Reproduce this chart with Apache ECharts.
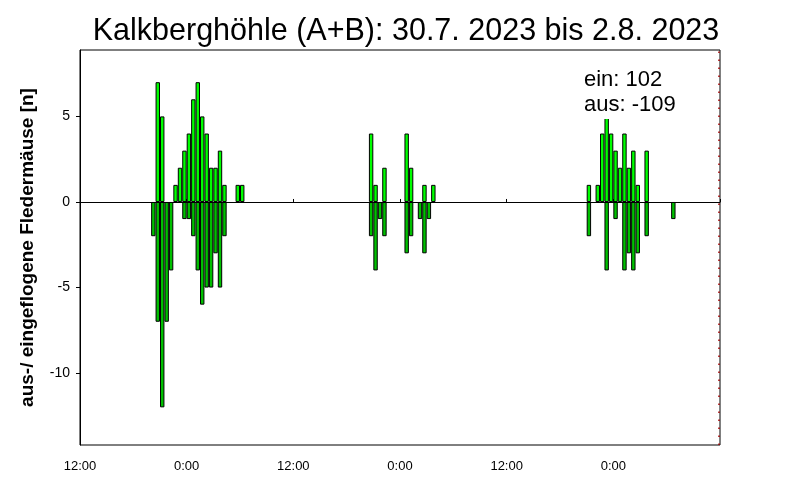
<!DOCTYPE html>
<html>
<head>
<meta charset="utf-8">
<script src="https://cdn.jsdelivr.net/npm/echarts@6/dist/echarts.min.js"></script>
<style>
  body { margin: 0; background: #fff; }
  #main { width: 800px; height: 500px; }
</style>
</head>
<body>
<div id="main"></div>
<script>
// half-hour slots (slot start), counts of bats flying in (ein) and out (aus)
var einTimes = ['07-30 20:30', '07-30 21:00', '07-30 22:30', '07-30 23:00', '07-30 23:30',
  '07-31 00:00', '07-31 00:30', '07-31 01:00', '07-31 01:30', '07-31 02:00', '07-31 02:30',
  '07-31 03:00', '07-31 03:30', '07-31 04:00', '07-31 05:30', '07-31 06:00',
  '07-31 20:30', '07-31 21:00', '07-31 22:00', '08-01 00:30', '08-01 01:00', '08-01 02:30', '08-01 03:30',
  '08-01 21:00', '08-01 22:00', '08-01 22:30', '08-01 23:00', '08-01 23:30', '08-02 00:00',
  '08-02 00:30', '08-02 01:00', '08-02 01:30', '08-02 02:00', '08-02 02:30', '08-02 03:30'];
var einValues = [7, 5, 1, 2, 3,
  4, 6, 7, 5, 4, 2,
  2, 3, 1, 1, 1,
  4, 1, 2, 4, 2, 1, 1,
  1, 1, 4, 5, 4, 3,
  2, 4, 2, 3, 1, 3];

var ausTimes = ['07-30 20:00', '07-30 20:30', '07-30 21:00', '07-30 21:30', '07-30 22:00', '07-30 23:30',
  '07-31 00:00', '07-31 00:30', '07-31 01:00', '07-31 01:30', '07-31 02:00', '07-31 02:30',
  '07-31 03:00', '07-31 03:30', '07-31 04:00',
  '07-31 20:30', '07-31 21:00', '07-31 21:30', '07-31 22:00', '08-01 00:30', '08-01 01:00',
  '08-01 02:00', '08-01 02:30', '08-01 03:00',
  '08-01 21:00', '08-01 23:00', '08-02 00:00', '08-02 01:00', '08-02 01:30', '08-02 02:00',
  '08-02 02:30', '08-02 03:30', '08-02 06:30'];
var ausValues = [-2, -7, -12, -7, -4, -1,
  -1, -2, -4, -6, -5, -5,
  -3, -5, -2,
  -2, -4, -1, -2, -3, -2,
  -1, -3, -1,
  -2, -4, -1, -4, -3, -4,
  -3, -2, -1];

var xTicks = ['12:00', '0:00', '12:00', '0:00', '12:00', '0:00', ''];
var yTicks = [-10, -5, 0, 5];
var dayOrder = ['07-30', '07-31', '08-01', '08-02'];

// hours since 30.7. 12:00, bar centred in its half hour
function toHours(s) {
  var d = dayOrder.indexOf(s.slice(0, 5));
  var h = parseInt(s.slice(6, 8), 10), m = parseInt(s.slice(9, 11), 10);
  return d * 24 + h + m / 60 - 12 + 0.25;
}
function pairs(times, vals) {
  return times.map(function (t, i) { return [toHours(t), vals[i]]; });
}

var font = 'Liberation Sans, Arial, sans-serif';
var chart = echarts.init(document.getElementById('main'));
chart.setOption({
  animation: false,
  title: {
    text: 'Kalkberghöhle (A+B): 30.7. 2023 bis 2.8. 2023',
    left: 401, top: 11, textAlign: 'center',
    textStyle: { fontFamily: font, fontSize: 30.5, fontWeight: 'normal', color: '#000' }
  },
  grid: { left: 80, right: 80, top: 50, bottom: 55, show: true, borderColor: '#000', borderWidth: 1 },
  xAxis: {
    type: 'value', min: 0, max: 72, interval: 12,
    axisLine: { lineStyle: { color: '#000' } },
    axisTick: { inside: true, length: 3, lineStyle: { color: '#000' } },
    axisLabel: {
      margin: 15, fontFamily: font, fontSize: 13, color: '#000',
      formatter: function (v) { return xTicks[Math.round(v / 12)]; }
    },
    splitLine: { show: false }
  },
  yAxis: {
    type: 'value', min: -14.2, max: 8.88,
    name: 'aus-/ eingeflogene Fledermäuse [n]',
    nameLocation: 'middle', nameGap: 43,
    nameTextStyle: { fontFamily: font, fontSize: 19, fontWeight: 'bold', color: '#000' },
    axisLine: { show: true, lineStyle: { color: '#000' } },
    axisTick: { show: true, length: 4, customValues: yTicks, lineStyle: { color: '#000' } },
    axisLabel: {
      margin: 10, fontFamily: font, fontSize: 14, color: '#000',
      customValues: yTicks
    },
    splitLine: { show: false }
  },
  series: [
    {
      name: 'ein', type: 'bar', stack: 'flug', barWidth: 4.4,
      data: pairs(einTimes, einValues),
      itemStyle: { color: '#00ff00', borderColor: '#000', borderWidth: 1 },
      markLine: {
        silent: true, symbol: 'none', label: { show: false },
        data: [
          { yAxis: 0, lineStyle: { color: '#000', width: 1, type: 'solid' } },
          { xAxis: 71.85, lineStyle: { color: '#a00000', width: 1.5, type: [1.5, 6.5] } }
        ]
      }
    },
    {
      name: 'aus', type: 'bar', stack: 'flug', barWidth: 4.4,
      data: pairs(ausTimes, ausValues),
      itemStyle: { color: '#00c000', borderColor: '#000', borderWidth: 1 }
    }
  ],
  graphic: [{
    type: 'text', left: 582, top: 67, z: 100,
    style: {
      text: 'ein: 102\naus: -109', fontFamily: font, fontSize: 22, lineHeight: 25,
      fill: '#000', backgroundColor: '#fff', padding: [0, 2, 2, 2]
    }
  }]
});
</script>
</body>
</html>
